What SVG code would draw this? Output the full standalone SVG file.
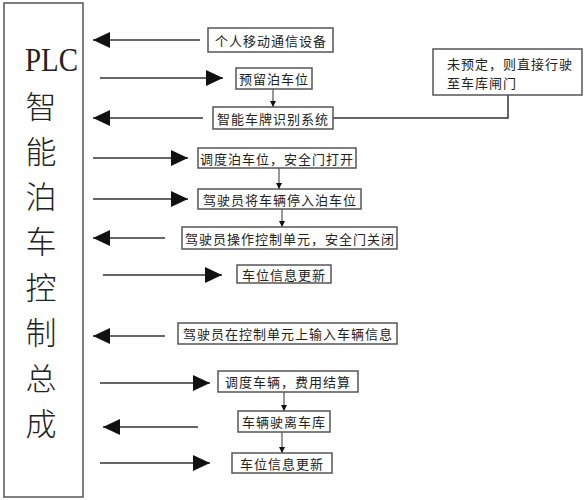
<svg xmlns="http://www.w3.org/2000/svg" width="584" height="500" viewBox="0 0 584 500">
<style>
.box{fill:#fff;stroke:#555;stroke-width:1.5}
.t{font-family:"Noto Sans CJK SC","Noto Sans",sans-serif;font-size:13px;fill:#222;text-anchor:middle;dominant-baseline:central;letter-spacing:1px}
.big{font-family:"Noto Sans CJK SC",sans-serif;font-size:31px;font-weight:300;fill:#222;text-anchor:middle}
.plc{font-family:"Liberation Serif",serif;font-size:33px;fill:#222}
.c{stroke:#333;stroke-width:1.5;fill:none}
.big-a{marker-end:url(#ah)}
.sm-a{stroke-width:1;marker-end:url(#as)}
</style>
<defs>
<marker id="ah" markerUnits="userSpaceOnUse" markerWidth="17" markerHeight="16" refX="17" refY="8" orient="auto"><path d="M0,0 L17,8 L0,16 z" fill="#111"/></marker>
<marker id="as" markerUnits="userSpaceOnUse" markerWidth="6" markerHeight="6" refX="6" refY="3" orient="auto"><path d="M0,0 L6,3 L0,6 z" fill="#111"/></marker>
</defs>
<g id="plc">
<rect class="box" x="4" y="3" width="79" height="494"/>
<text class="plc" x="25" y="71" textLength="53" lengthAdjust="spacingAndGlyphs">PLC</text>
<text class="big" x="41" y="118">智</text>
<text class="big" x="41" y="163">能</text>
<text class="big" x="41" y="208">泊</text>
<text class="big" x="41" y="253">车</text>
<text class="big" x="41" y="299">控</text>
<text class="big" x="41" y="344">制</text>
<text class="big" x="41" y="390">总</text>
<text class="big" x="41" y="435">成</text>
</g>
<g id="connectors">
<line class="c big-a" x1="200" y1="40" x2="93" y2="40"/>
<line class="c big-a" x1="100" y1="78" x2="223" y2="78"/>
<line class="c big-a" x1="203" y1="118" x2="93" y2="118"/>
<line class="c big-a" x1="93" y1="158" x2="188" y2="158"/>
<line class="c big-a" x1="93" y1="199" x2="188" y2="199"/>
<line class="c big-a" x1="165" y1="238" x2="93" y2="238"/>
<line class="c big-a" x1="103" y1="275" x2="222" y2="275"/>
<line class="c big-a" x1="165" y1="336" x2="93" y2="336"/>
<line class="c big-a" x1="100" y1="383" x2="210" y2="383"/>
<line class="c big-a" x1="198" y1="427" x2="103" y2="427"/>
<line class="c big-a" x1="100" y1="463" x2="210" y2="463"/>
<line class="c sm-a" x1="273" y1="89" x2="273" y2="107"/>
<line class="c sm-a" x1="279" y1="168" x2="279" y2="189"/>
<line class="c sm-a" x1="282" y1="209" x2="282" y2="227"/>
<line class="c sm-a" x1="284" y1="392" x2="284" y2="411"/>
<line class="c sm-a" x1="282" y1="432" x2="282" y2="453"/>
<polyline class="c" points="333,118 508,118 508,95"/>
</g>
<g id="n1"><rect class="box" x="208" y="28" width="125" height="24"/><text class="t" x="271" y="40">个人移动通信设备</text></g>
<g id="n2"><rect class="box" x="236" y="68" width="76" height="21"/><text class="t" x="274" y="78.5">预留泊车位</text></g>
<g id="n3"><rect class="box" x="213" y="107" width="120" height="22"/><text class="t" x="273" y="118">智能车牌识别系统</text></g>
<g id="note"><rect class="box" x="433" y="49" width="149" height="46"/>
<text class="t" x="447" y="63" style="text-anchor:start">未预定，则直接行驶</text>
<text class="t" x="447" y="82" style="text-anchor:start">至车库闸门</text></g>
<g id="n4"><rect class="box" x="198" y="148" width="158" height="20"/><text class="t" x="277" y="158">调度泊车位，安全门打开</text></g>
<g id="n5"><rect class="box" x="198" y="189" width="163" height="20"/><text class="t" x="280" y="199">驾驶员将车辆停入泊车位</text></g>
<g id="n6"><rect class="box" x="182" y="227" width="215" height="22"/><text class="t" x="290" y="238">驾驶员操作控制单元，安全门关闭</text></g>
<g id="n7"><rect class="box" x="237" y="265" width="94" height="18"/><text class="t" x="284" y="274">车位信息更新</text></g>
<g id="n8"><rect class="box" x="178" y="323" width="219" height="21"/><text class="t" x="288" y="333.5">驾驶员在控制单元上输入车辆信息</text></g>
<g id="n9"><rect class="box" x="218" y="371" width="140" height="21"/><text class="t" x="288" y="381.5">调度车辆，费用结算</text></g>
<g id="n10"><rect class="box" x="238" y="411" width="92" height="21"/><text class="t" x="284" y="421.5">车辆驶离车库</text></g>
<g id="n11"><rect class="box" x="232" y="453" width="100" height="20"/><text class="t" x="282" y="463">车位信息更新</text></g>
</svg>
